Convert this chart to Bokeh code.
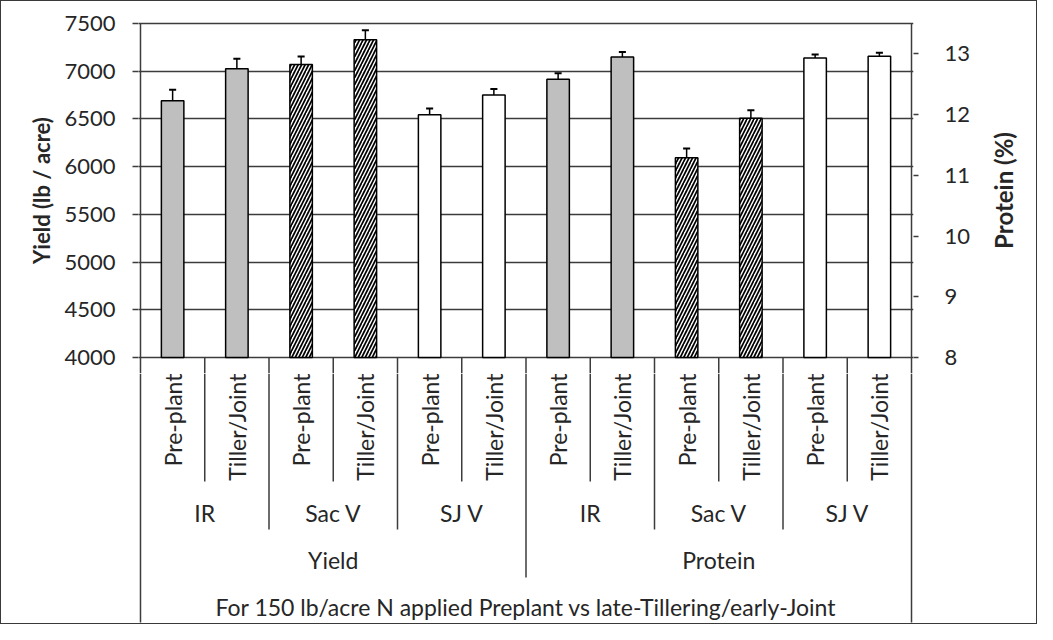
import math
from bokeh.plotting import figure
from bokeh.layouts import column, row
from bokeh.models import Range1d, LinearAxis, FixedTicker
from bokeh.core.properties import value
from bokeh.embed import file_html
from bokeh.resources import INLINE

# ---------------- data ----------------
measures = ["Yield", "Protein"]
regions = ["IR", "Sac V", "SJ V"]
timings = ["Pre-plant", "Tiller/Joint"]
yield_values = [6690, 7025, 7070, 7330, 6545, 6750]
yield_err = [115, 105, 85, 100, 65, 63]
protein_values = [12.58, 12.95, 11.29, 11.94, 12.93, 12.96]
protein_err = [0.10, 0.08, 0.15, 0.13, 0.06, 0.06]
yield_ticks = [4000, 4500, 5000, 5500, 6000, 6500, 7000, 7500]
protein_ticks = [8, 9, 10, 11, 12, 13]
y_title = "Yield (lb / acre)"
p_title = "Protein (%)"
x_title = "For 150 lb/acre N applied Preplant vs late-Tillering/early-Joint"

# ---------------- layout ----------------
W_ALL, H_ALL = 1035, 622
W_LT, W_RT = 60, 55           # strips holding the axis titles
W = W_ALL - W_LT - W_RT       # central column
H_TOP = 372                   # canvas rows 0..372  (reference rows 9..381)
H_BOT = H_ALL - H_TOP         # canvas rows 372..622 (reference rows 381..631)
KX = 773 / 12.0               # px per category
Y0, Y1 = 4000, 7500
P0, P1 = 8, 13.5
KY = 334.0 / (Y1 - Y0)        # px per yield unit
PAD = 16                      # frame padding above 7500 and below 4000 (px)
FRAME_L = 135 - W_LT
x_start, x_end = -2 / KX, 12 + 2 / KX
frame_w = (x_end - x_start) * KX
FRAME_R = int(round(W - FRAME_L - frame_w))
y_start, y_end = Y0 - PAD / KY, Y1 + PAD / KY


def to_p(y):
    return P0 + (y - Y0) * (P1 - P0) / (Y1 - Y0)


FONT = "Lato"
TXT = "#262626"
LINE = "#3c3c3c"
TICK_FS = "22px"
CAT_FS = "23px"
TITLE_FS = "22px"
TITLE2_FS = "24px"


def blank(fig):
    fig.outline_line_color = None
    fig.background_fill_color = "white"
    fig.border_fill_color = "white"
    fig.grid.visible = False


xr = Range1d(x_start, x_end)

# ================= top figure: plot area =================
p = figure(width=W, height=H_TOP, output_backend="svg", toolbar_location=None,
           x_range=xr, y_range=Range1d(y_start, y_end),
           x_axis_location=None, y_axis_location="left",
           min_border_left=FRAME_L, min_border_right=FRAME_R,
           min_border_top=H_TOP - 2 * PAD - 334, min_border_bottom=0)
p.extra_y_ranges = {"protein": Range1d(to_p(y_start), to_p(y_end))}
p.outline_line_color = None
p.background_fill_color = "white"
p.border_fill_color = "white"
p.xgrid.visible = False

ya = p.yaxis[0]
ya.ticker = FixedTicker(ticks=yield_ticks)
ya.axis_line_color = None
ya.major_tick_out = 6
ya.major_tick_in = 0
ya.major_tick_line_color = LINE
ya.major_tick_line_width = 1.5
ya.minor_tick_line_color = None
ya.major_label_standoff = 17
ya.major_label_text_font = FONT
ya.major_label_text_font_size = TICK_FS
ya.major_label_text_color = TXT

p.ygrid.ticker = FixedTicker(ticks=yield_ticks)
p.ygrid.grid_line_color = LINE
p.ygrid.grid_line_width = 1.5

pa = LinearAxis(y_range_name="protein", ticker=FixedTicker(ticks=protein_ticks))
pa.axis_line_color = None
pa.major_tick_out = 5
pa.major_tick_in = 0
pa.major_tick_line_color = LINE
pa.major_tick_line_width = 1.5
pa.minor_tick_line_color = None
pa.major_label_standoff = 26
pa.major_label_text_font = FONT
pa.major_label_text_font_size = TICK_FS
pa.major_label_text_color = TXT
p.add_layout(pa, "right")

styles = {
    "IR": dict(fill_color="#bfbfbf"),
    "Sac V": dict(fill_color="white", hatch_pattern="/", hatch_color="black",
                  hatch_weight=1.7, hatch_scale=7),
    "SJ V": dict(fill_color="white"),
}
BW = 0.35
CAP = 0.055
for mi, meas in enumerate(measures):
    vals = yield_values if meas == "Yield" else protein_values
    errs = yield_err if meas == "Yield" else protein_err
    base = Y0 if meas == "Yield" else P0
    kw = {} if meas == "Yield" else {"y_range_name": "protein"}
    for ri, reg in enumerate(regions):
        xs, tops, ups = [], [], []
        for ti in range(len(timings)):
            i = ri * 2 + ti
            xs.append(mi * 6 + i + 0.5)
            tops.append(vals[i])
            ups.append(vals[i] + errs[i])
        p.segment(x0=xs, y0=tops, x1=xs, y1=ups, line_color="black", line_width=1.5, **kw)
        p.segment(x0=[x - CAP for x in xs], y0=ups, x1=[x + CAP for x in xs], y1=ups,
                  line_color="black", line_width=2, **kw)
        p.vbar(x=xs, top=tops, bottom=base, width=BW, line_color="black", line_width=1.5,
               **styles[reg], **kw)

n = len(measures) * len(regions) * len(timings)
inner = list(range(1, n))
p.segment(x0=inner, y0=[Y0] * len(inner), x1=inner, y1=[y_start] * len(inner),
          line_color=LINE, line_width=1.5)
p.segment(x0=[0, n], y0=[y_start] * 2, x1=[0, n], y1=[Y1] * 2,
          line_color=LINE, line_width=1.5)

# ================= bottom figure: multi-level category axis =================
# vertical unit = reference-picture pixel row (row 381 at the top, 631 at the bottom)
q = figure(width=W, height=H_BOT, output_backend="svg", toolbar_location=None,
           x_range=xr, y_range=Range1d(381 + H_BOT, 381),
           x_axis_location=None, y_axis_location=None,
           min_border_left=FRAME_L, min_border_right=FRAME_R,
           min_border_top=0, min_border_bottom=0)
blank(q)

leaf_x = [i + 0.5 for i in range(n)]
leaf_t = [timings[i % 2] for i in range(n)]
q.text(x=leaf_x, y=[381] * n, text=leaf_t, angle=math.pi / 2,
       text_align="right", text_baseline="middle", text_font=value(FONT),
       text_font_size=CAT_FS, text_color=TXT)
grp_x = [2 * g + 1 for g in range(len(measures) * len(regions))]
grp_t = [regions[g % 3] for g in range(len(grp_x))]
q.text(x=grp_x, y=[520] * len(grp_x), text=grp_t, text_align="center",
       text_baseline="middle", text_font=value(FONT), text_font_size=CAT_FS, text_color=TXT)
q.text(x=[3, 9], y=[567] * 2, text=measures, text_align="center",
       text_baseline="middle", text_font=value(FONT), text_font_size=CAT_FS, text_color=TXT)
q.text(x=[6], y=[614], text=[x_title], text_align="center",
       text_baseline="middle", text_font=value(FONT), text_font_size=CAT_FS, text_color=TXT)

b_leaf = [1, 3, 5, 7, 9, 11]
b_grp = [2, 4, 8, 10]
b_meas = [6]
b_out = [0, n]
for bs, end in ((b_leaf, 489), (b_grp, 537), (b_meas, 585), (b_out, 630)):
    q.segment(x0=bs, y0=[381] * len(bs), x1=bs, y1=[end] * len(bs),
              line_color=LINE, line_width=1.5)

# ================= side strips: axis titles =================
# units: x = reference-picture column, y = reference-picture row
def strip(w, x0):
    f = figure(width=w, height=H_ALL, output_backend="svg", toolbar_location=None,
               x_range=Range1d(x0, x0 + w), y_range=Range1d(9 + H_ALL, 9),
               x_axis_location=None, y_axis_location=None,
               min_border=0)
    blank(f)
    return f


lt = strip(W_LT, 9)
lt.text(x=[49], y=[198], text=[y_title], angle=math.pi / 2, text_align="center",
        text_baseline="middle", text_font=value(FONT), text_font_size=TITLE_FS,
        text_font_style="bold", text_color=TXT)
rt = strip(W_RT, 9 + W_ALL - W_RT)
rt.text(x=[1011], y=[198], text=[p_title], angle=math.pi / 2, text_align="center",
        text_baseline="middle", text_font=value(FONT), text_font_size=TITLE2_FS,
        text_font_style="bold", text_color=TXT)

lay = row(lt, column(p, q, spacing=0), rt, spacing=0)
lay.styles = {"border": "1px solid #3a3a3a"}

open("out.html", "w").write(file_html(lay, INLINE))
